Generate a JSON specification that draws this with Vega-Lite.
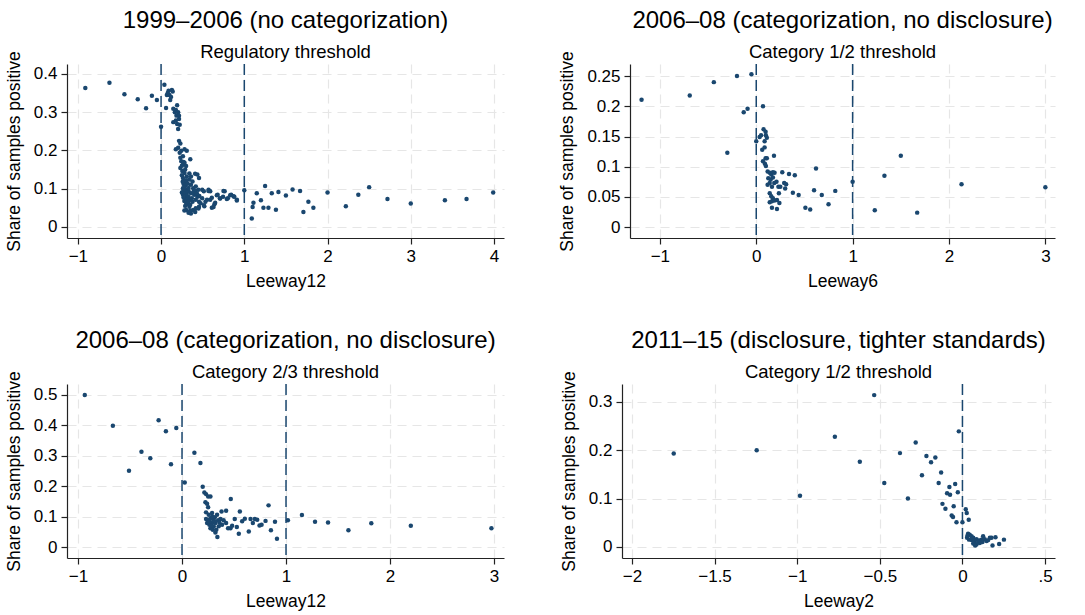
{
"$schema": "https://vega.github.io/schema/vega-lite/v6.json",
"background": "white",
"padding": {"left": 5, "top": 9, "right": 5, "bottom": 2},
"config": {
  "font": "Liberation Sans",
  "view": {"stroke": null},
  "title": {"font": "Liberation Sans", "fontSize": 24, "fontWeight": "normal", "color": "#000", "subtitleFont": "Liberation Sans", "subtitleFontSize": 18.5, "subtitleColor": "#000", "offset": -11, "subtitlePadding": 10, "anchor": "middle"},
  "axis": {"labelFont": "Liberation Sans", "titleFont": "Liberation Sans", "labelFontSize": 17, "labelColor": "#000", "titleFontSize": 17.5, "titleFontWeight": "normal", "titleColor": "#000", "domainColor": "#222", "domainWidth": 1.2, "tickColor": "#222", "tickSize": 6, "tickWidth": 1.2, "gridColor": "#e6e6e6", "gridDash": [9, 6], "gridWidth": 1.2, "labelPadding": 4, "titlePadding": 8},
  "axisY": {"titlePadding": 10}
},
"datasets": {
  "p1": [
{"x":-0.91,"y":0.363},{"x":-0.62,"y":0.377},{"x":-0.44,"y":0.347},{"x":-0.28,"y":0.334},{"x":-0.18,"y":0.31},{"x":-0.11,"y":0.343},{"x":-0.05,"y":0.332},{"x":0.0,"y":0.262},{"x":0.04,"y":0.372},{"x":0.06,"y":0.311},
{"x":0.07,"y":0.345},{"x":0.09,"y":0.356},{"x":0.11,"y":0.332},{"x":0.13,"y":0.358},{"x":0.14,"y":0.354},{"x":0.10,"y":0.345},{"x":0.12,"y":0.34},{"x":0.08,"y":0.35},
{"x":0.193,"y":0.318},{"x":0.178,"y":0.306},{"x":0.147,"y":0.309},{"x":0.166,"y":0.300},{"x":0.205,"y":0.300},{"x":0.185,"y":0.291},{"x":0.216,"y":0.291},{"x":0.147,"y":0.274},{"x":0.178,"y":0.278},{"x":0.193,"y":0.269},{"x":0.216,"y":0.282},{"x":0.224,"y":0.267},{"x":0.205,"y":0.256},{"x":0.216,"y":0.225},{"x":0.232,"y":0.218},{"x":0.205,"y":0.207},{"x":0.178,"y":0.203},{"x":0.224,"y":0.194},{"x":0.243,"y":0.199},{"x":0.263,"y":0.185},{"x":0.232,"y":0.181},{"x":0.282,"y":0.203},{"x":0.309,"y":0.199},{"x":0.351,"y":0.177},{"x":0.243,"y":0.172},{"x":0.263,"y":0.163},{"x":0.282,"y":0.168},{"x":0.301,"y":0.159},{"x":0.232,"y":0.154},{"x":0.255,"y":0.146},{"x":0.282,"y":0.141},{"x":0.309,"y":0.132},{"x":0.263,"y":0.128},{"x":0.282,"y":0.119},{"x":0.309,"y":0.115},{"x":0.340,"y":0.124},{"x":0.378,"y":0.119},{"x":0.409,"y":0.139},{"x":0.436,"y":0.137},{"x":0.456,"y":0.128},{"x":0.359,"y":0.110},{"x":0.386,"y":0.101},{"x":0.417,"y":0.106},{"x":0.448,"y":0.097},{"x":0.494,"y":0.097},{"x":0.514,"y":0.093},{"x":0.263,"y":0.101},{"x":0.301,"y":0.097},{"x":0.332,"y":0.093},{"x":0.359,"y":0.088},{"x":0.398,"y":0.084},{"x":0.436,"y":0.079},{"x":0.263,"y":0.084},{"x":0.293,"y":0.075},{"x":0.320,"y":0.079},{"x":0.347,"y":0.071},{"x":0.378,"y":0.066},{"x":0.417,"y":0.071},{"x":0.456,"y":0.066},{"x":0.494,"y":0.075},{"x":0.533,"y":0.066},{"x":0.571,"y":0.097},{"x":0.591,"y":0.093},{"x":0.301,"y":0.044},{"x":0.340,"y":0.053},{"x":0.359,"y":0.035},{"x":0.386,"y":0.044},{"x":0.417,"y":0.049},{"x":0.456,"y":0.053},{"x":0.475,"y":0.062},{"x":0.514,"y":0.057},{"x":0.552,"y":0.071},{"x":0.591,"y":0.071},{"x":0.610,"y":0.050},{"x":0.641,"y":0.059},{"x":0.680,"y":0.084},{"x":0.707,"y":0.075},{"x":0.745,"y":0.079},{"x":0.764,"y":0.093},{"x":0.803,"y":0.075},{"x":0.842,"y":0.084},{"x":0.880,"y":0.079},{"x":0.911,"y":0.071},
{"x":0.25,"y":0.135},{"x":0.27,"y":0.112},{"x":0.29,"y":0.108},{"x":0.31,"y":0.09},{"x":0.33,"y":0.102},{"x":0.25,"y":0.09},{"x":0.27,"y":0.095},{"x":0.29,"y":0.088},{"x":0.31,"y":0.082},{"x":0.33,"y":0.078},{"x":0.28,"y":0.068},{"x":0.30,"y":0.064},{"x":0.32,"y":0.06},{"x":0.35,"y":0.058},{"x":0.37,"y":0.075},{"x":0.39,"y":0.092},{"x":0.26,"y":0.118},{"x":0.28,"y":0.104},{"x":0.3,"y":0.122},{"x":0.32,"y":0.113},{"x":0.34,"y":0.14},{"x":0.36,"y":0.132},{"x":0.27,"y":0.077},{"x":0.29,"y":0.055},{"x":0.31,"y":0.071},{"x":0.33,"y":0.067},{"x":0.41,"y":0.095},{"x":0.43,"y":0.088},{"x":0.46,"y":0.081},{"x":0.28,"y":0.043},{"x":0.33,"y":0.037},{"x":0.35,"y":0.043},{"x":0.41,"y":0.039},{"x":0.45,"y":0.048},{"x":0.52,"y":0.054},{"x":0.25,"y":0.16},{"x":0.27,"y":0.17},{"x":0.29,"y":0.15},
{"x":0.57,"y":0.094},{"x":0.61,"y":0.076},{"x":0.63,"y":0.052},{"x":0.65,"y":0.063},{"x":0.67,"y":0.083},{"x":0.71,"y":0.074},{"x":0.75,"y":0.094},{"x":0.79,"y":0.073},{"x":0.83,"y":0.083},{"x":0.87,"y":0.08},{"x":0.91,"y":0.069},{"x":1.0,"y":0.096},{"x":1.09,"y":0.022},{"x":1.10,"y":0.052},{"x":1.11,"y":0.063},{"x":1.15,"y":0.088},{"x":1.20,"y":0.07},{"x":1.23,"y":0.05},{"x":1.25,"y":0.107},{"x":1.29,"y":0.05},{"x":1.33,"y":0.088},{"x":1.38,"y":0.045},{"x":1.41,"y":0.091},{"x":1.50,"y":0.082},{"x":1.58,"y":0.098},{"x":1.67,"y":0.094},{"x":1.71,"y":0.039},{"x":1.77,"y":0.066},{"x":1.83,"y":0.05},{"x":2.0,"y":0.09},{"x":2.22,"y":0.054},{"x":2.37,"y":0.084},{"x":2.50,"y":0.104},{"x":2.72,"y":0.073},{"x":3.0,"y":0.061},{"x":3.41,"y":0.07},{"x":3.67,"y":0.073},{"x":3.99,"y":0.09}
  ],
  "p2": [
{"x":-1.19,"y":0.211},{"x":-0.69,"y":0.218},{"x":-0.44,"y":0.240},{"x":-0.20,"y":0.250},{"x":-0.05,"y":0.253},{"x":-0.30,"y":0.123},{"x":-0.13,"y":0.190},{"x":-0.09,"y":0.196},{"x":0.07,"y":0.200},{"x":0.0,"y":0.142},
{"x":0.035,"y":0.149},{"x":0.05,"y":0.152},{"x":0.076,"y":0.162},{"x":0.097,"y":0.158},{"x":0.10,"y":0.152},{"x":0.11,"y":0.148},{"x":0.087,"y":0.142},{"x":0.062,"y":0.128},{"x":0.087,"y":0.132},{"x":0.07,"y":0.109},{"x":0.097,"y":0.114},{"x":0.11,"y":0.114},{"x":0.09,"y":0.105},{"x":0.10,"y":0.101},{"x":0.118,"y":0.092},{"x":0.14,"y":0.09},{"x":0.156,"y":0.087},{"x":0.173,"y":0.091},{"x":0.125,"y":0.081},{"x":0.15,"y":0.079},{"x":0.173,"y":0.082},{"x":0.19,"y":0.09},{"x":0.184,"y":0.118},{"x":0.118,"y":0.070},{"x":0.14,"y":0.073},{"x":0.163,"y":0.067},{"x":0.187,"y":0.073},{"x":0.14,"y":0.056},{"x":0.156,"y":0.051},{"x":0.173,"y":0.048},{"x":0.14,"y":0.041},{"x":0.163,"y":0.043},{"x":0.19,"y":0.044},{"x":0.215,"y":0.045},{"x":0.24,"y":0.040},{"x":0.163,"y":0.032},{"x":0.215,"y":0.030},
{"x":0.21,"y":0.075},{"x":0.23,"y":0.067},{"x":0.25,"y":0.067},{"x":0.235,"y":0.056},{"x":0.27,"y":0.091},{"x":0.29,"y":0.073},{"x":0.31,"y":0.071},{"x":0.30,"y":0.064},{"x":0.34,"y":0.088},{"x":0.40,"y":0.086},{"x":0.38,"y":0.057},{"x":0.44,"y":0.053},{"x":0.51,"y":0.032},{"x":0.56,"y":0.029},{"x":0.60,"y":0.061},{"x":0.62,"y":0.097},{"x":0.68,"y":0.053},{"x":0.75,"y":0.038},{"x":0.82,"y":0.060},{"x":1.0,"y":0.075},{"x":1.23,"y":0.028},{"x":1.33,"y":0.085},{"x":1.50,"y":0.118},{"x":1.67,"y":0.024},{"x":2.13,"y":0.071},{"x":3.0,"y":0.066}
  ],
  "p3": [
{"x":-0.935,"y":0.500},{"x":-0.665,"y":0.399},{"x":-0.51,"y":0.251},{"x":-0.39,"y":0.313},{"x":-0.305,"y":0.292},{"x":-0.225,"y":0.417},{"x":-0.155,"y":0.381},{"x":-0.106,"y":0.272},{"x":-0.055,"y":0.391},{"x":0.026,"y":0.212},{"x":0.119,"y":0.310},{"x":0.177,"y":0.276},{"x":0.199,"y":0.198},{"x":0.215,"y":0.179},{"x":0.231,"y":0.174},{"x":0.251,"y":0.166},{"x":0.273,"y":0.166},{"x":0.225,"y":0.147},{"x":0.241,"y":0.142},{"x":0.251,"y":0.131},{"x":0.469,"y":0.158},{"x":0.832,"y":0.137},
{"x":0.231,"y":0.114},{"x":0.257,"y":0.106},{"x":0.289,"y":0.112},{"x":0.231,"y":0.092},{"x":0.251,"y":0.088},{"x":0.273,"y":0.095},{"x":0.296,"y":0.092},{"x":0.315,"y":0.098},{"x":0.241,"y":0.079},{"x":0.263,"y":0.073},{"x":0.289,"y":0.079},{"x":0.321,"y":0.079},{"x":0.347,"y":0.088},{"x":0.37,"y":0.092},{"x":0.38,"y":0.117},{"x":0.424,"y":0.119},{"x":0.273,"y":0.062},{"x":0.296,"y":0.057},{"x":0.321,"y":0.048},{"x":0.34,"y":0.033},{"x":0.353,"y":0.068},{"x":0.385,"y":0.073},{"x":0.40,"y":0.088},{"x":0.424,"y":0.079},{"x":0.443,"y":0.062},{"x":0.466,"y":0.062},{"x":0.482,"y":0.070},{"x":0.507,"y":0.092},{"x":0.527,"y":0.066},{"x":0.546,"y":0.044},{"x":0.556,"y":0.117},{"x":0.578,"y":0.085},{"x":0.604,"y":0.093},{"x":0.642,"y":0.051},{"x":0.659,"y":0.092},{"x":0.681,"y":0.079},{"x":0.700,"y":0.092},{"x":0.723,"y":0.090},{"x":0.745,"y":0.071},{"x":0.765,"y":0.073},{"x":0.803,"y":0.086},{"x":0.855,"y":0.055},{"x":0.894,"y":0.083},{"x":0.913,"y":0.027},{"x":1.018,"y":0.088},{"x":1.153,"y":0.105},{"x":1.279,"y":0.083},{"x":1.404,"y":0.081},{"x":1.60,"y":0.055},{"x":1.82,"y":0.078},{"x":2.20,"y":0.070},{"x":2.975,"y":0.062},
{"x":0.337,"y":0.106},{"x":0.305,"y":0.068},{"x":0.28,"y":0.07},{"x":0.33,"y":0.057},{"x":0.26,"y":0.085},{"x":0.31,"y":0.086},{"x":0.36,"y":0.08},{"x":0.29,"y":0.1}
  ],
  "p4": [
{"x":-1.747,"y":0.193},{"x":-1.245,"y":0.200},{"x":-0.983,"y":0.106},{"x":-0.772,"y":0.228},{"x":-0.621,"y":0.176},{"x":-0.534,"y":0.314},{"x":-0.473,"y":0.132},{"x":-0.378,"y":0.194},{"x":-0.330,"y":0.100},{"x":-0.283,"y":0.216},{"x":-0.245,"y":0.148},{"x":-0.218,"y":0.188},{"x":-0.190,"y":0.175},{"x":-0.164,"y":0.185},{"x":-0.144,"y":0.132},{"x":-0.129,"y":0.154},{"x":-0.121,"y":0.089},{"x":-0.103,"y":0.079},{"x":-0.093,"y":0.111},{"x":-0.079,"y":0.124},{"x":-0.075,"y":0.108},{"x":-0.065,"y":0.065},{"x":-0.057,"y":0.062},{"x":-0.053,"y":0.084},{"x":-0.044,"y":0.130},{"x":-0.036,"y":0.051},{"x":-0.028,"y":0.113},{"x":-0.022,"y":0.239},{"x":0.0,"y":0.051},{"x":0.020,"y":0.078},{"x":0.026,"y":0.070},{"x":0.038,"y":0.056},
{"x":0.034,"y":0.027},{"x":0.044,"y":0.025},{"x":0.055,"y":0.022},{"x":0.065,"y":0.019},{"x":0.028,"y":0.019},{"x":0.040,"y":0.015},{"x":0.055,"y":0.014},{"x":0.069,"y":0.012},{"x":0.075,"y":0.008},{"x":0.085,"y":0.016},{"x":0.095,"y":0.012},{"x":0.105,"y":0.008},{"x":0.115,"y":0.015},{"x":0.125,"y":0.022},{"x":0.135,"y":0.016},{"x":0.146,"y":0.012},{"x":0.156,"y":0.014},{"x":0.166,"y":0.019},{"x":0.182,"y":0.003},{"x":0.200,"y":0.020},{"x":0.222,"y":0.006},{"x":0.251,"y":0.015},{"x":0.085,"y":0.005},{"x":0.065,"y":0.007},{"x":0.101,"y":0.013},{"x":0.121,"y":0.010},{"x":0.077,"y":0.003},{"x":0.176,"y":0.019},{"x":0.061,"y":0.017},{"x":0.030,"y":0.023}
  ],
  "t2": [{"x": 0}, {"x": 1}],
  "t1": [{"x": 0}]
},
"spacing": 39,
"vconcat": [
 {"spacing": 54, "hconcat": [
  {"title": {"text": "1999–2006 (no categorization)", "subtitle": "Regulatory threshold"},
   "width": 437, "height": 174,
   "encoding": {"x": {"field": "x", "type": "quantitative", "title": "Leeway12", "scale": {"domain": [-1.13, 4.12], "nice": false, "zero": false}, "axis": {"values": [-1, 0, 1, 2, 3, 4], "labelExpr": "format(datum.value, '~g')"}}},
   "layer": [
    {"data": {"name": "t2"}, "mark": {"type": "rule", "color": "#1a476f", "strokeDash": [11, 5], "strokeWidth": 1.5}},
    {"data": {"name": "p1"}, "mark": {"type": "circle", "size": 20, "color": "#1a476f", "opacity": 1},
     "encoding": {"y": {"field": "y", "type": "quantitative", "title": "Share of samples positive", "scale": {"domain": [-0.029, 0.426], "nice": false, "zero": false}, "axis": {"values": [0, 0.1, 0.2, 0.3, 0.4], "labelExpr": "format(datum.value, '~g')"}}}}
   ]},
  {"title": {"text": "2006–08 (categorization, no disclosure)", "subtitle": "Category 1/2 threshold"},
   "width": 425, "height": 174,
   "encoding": {"x": {"field": "x", "type": "quantitative", "title": "Leeway6", "scale": {"domain": [-1.31, 3.1], "nice": false, "zero": false}, "axis": {"values": [-1, 0, 1, 2, 3], "labelExpr": "format(datum.value, '~g')"}}},
   "layer": [
    {"data": {"name": "t2"}, "mark": {"type": "rule", "color": "#1a476f", "strokeDash": [11, 5], "strokeWidth": 1.5}},
    {"data": {"name": "p2"}, "mark": {"type": "circle", "size": 20, "color": "#1a476f", "opacity": 1},
     "encoding": {"y": {"field": "y", "type": "quantitative", "title": "Share of samples positive", "scale": {"domain": [-0.018, 0.27], "nice": false, "zero": false}, "axis": {"values": [0, 0.05, 0.1, 0.15, 0.2, 0.25], "labelExpr": "format(datum.value, '~g')"}}}}
   ]}
 ]},
 {"spacing": 56, "hconcat": [
  {"title": {"text": "2006–08 (categorization, no disclosure)", "subtitle": "Category 2/3 threshold"},
   "width": 437, "height": 174,
   "encoding": {"x": {"field": "x", "type": "quantitative", "title": "Leeway12", "scale": {"domain": [-1.106, 3.096], "nice": false, "zero": false}, "axis": {"values": [-1, 0, 1, 2, 3], "labelExpr": "format(datum.value, '~g')"}}},
   "layer": [
    {"data": {"name": "t2"}, "mark": {"type": "rule", "color": "#1a476f", "strokeDash": [11, 5], "strokeWidth": 1.5}},
    {"data": {"name": "p3"}, "mark": {"type": "circle", "size": 20, "color": "#1a476f", "opacity": 1},
     "encoding": {"y": {"field": "y", "type": "quantitative", "title": "Share of samples positive", "scale": {"domain": [-0.036, 0.536], "nice": false, "zero": false}, "axis": {"values": [0, 0.1, 0.2, 0.3, 0.4, 0.5], "labelExpr": "format(datum.value, '~g')"}}}}
   ]},
  {"title": {"text": "2011–15 (disclosure, tighter standards)", "subtitle": "Category 1/2 threshold"},
   "width": 433, "height": 174,
   "encoding": {"x": {"field": "x", "type": "quantitative", "title": "Leeway2", "scale": {"domain": [-2.06, 0.56], "nice": false, "zero": false}, "axis": {"values": [-2, -1.5, -1, -0.5, 0, 0.5], "labelExpr": "datum.value == 0.5 ? '.5' : format(datum.value, '~g')"}}},
   "layer": [
    {"data": {"name": "t1"}, "mark": {"type": "rule", "color": "#1a476f", "strokeDash": [11, 5], "strokeWidth": 1.5}},
    {"data": {"name": "p4"}, "mark": {"type": "circle", "size": 20, "color": "#1a476f", "opacity": 1},
     "encoding": {"y": {"field": "y", "type": "quantitative", "title": "Share of samples positive", "scale": {"domain": [-0.023, 0.337], "nice": false, "zero": false}, "axis": {"values": [0, 0.1, 0.2, 0.3], "labelExpr": "format(datum.value, '~g')"}}}}
   ]}
 ]}
]
}
